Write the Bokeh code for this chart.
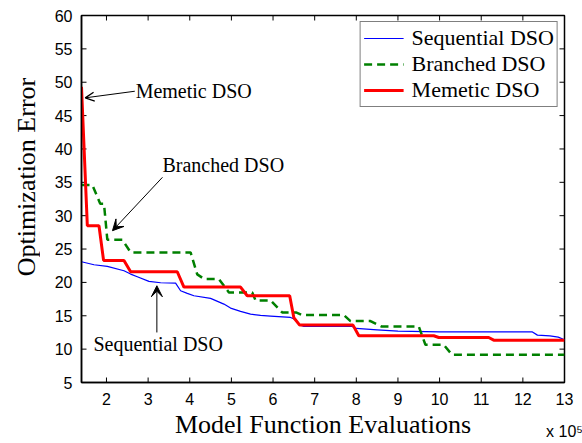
import math
from bokeh.plotting import figure
from bokeh.layouts import row
from bokeh.models import (Range1d, LinearAxis, FixedTicker, Label, Arrow,
                          OpenHead, VeeHead, Legend, LegendItem)
from bokeh.core.properties import value
from bokeh.embed import file_html
from bokeh.resources import INLINE

# ---- data (x in units of 1e5 model function evaluations) ----
seq_x = [1.40, 1.70, 2.02, 2.42, 2.58, 2.74, 3.02, 3.30, 3.66, 3.78, 3.94, 4.10,
         4.50, 4.82, 4.98, 5.22, 5.46, 5.70, 5.94, 6.42, 6.52, 6.66, 6.74, 7.90,
         8.00, 8.50, 9.00, 10.00, 12.22, 12.35, 12.65, 12.85, 13.00]
seq_y = [23.1, 22.65, 22.4, 21.75, 21.25, 20.85, 20.15, 19.95, 19.9, 18.75, 18.35, 18.0,
         17.6, 16.75, 16.15, 15.65, 15.25, 15.05, 14.95, 14.75, 14.5, 13.6, 13.4, 13.4,
         13.1, 12.9, 12.7, 12.6, 12.6, 12.1, 12.0, 11.8, 11.4]

br_x = [1.40, 1.66, 1.85, 1.94, 2.02, 2.38, 2.58, 4.02, 4.18, 4.35, 4.70, 4.94,
        5.50, 5.58, 5.94, 6.22, 6.55, 6.70, 7.70, 7.86, 8.34, 8.60, 9.50, 9.66,
        10.10, 10.30, 13.00]
br_y = [34.6, 34.6, 31.8, 31.8, 26.4, 26.4, 24.5, 24.5, 21.2, 20.5, 20.5, 18.5,
        18.5, 17.3, 17.3, 15.5, 15.5, 15.1, 15.1, 14.2, 14.2, 13.4, 13.4, 10.65,
        10.65, 9.15, 9.15]

mem_x = [1.40, 1.54, 1.82, 1.93, 2.42, 2.58, 3.70, 3.86, 5.22, 5.38, 6.40, 6.50,
         6.64, 7.92, 8.06, 9.86, 9.98, 11.18, 11.30, 13.00]
mem_y = [49.3, 28.5, 28.5, 23.3, 23.3, 21.6, 21.6, 19.3, 19.3, 18.0, 18.0, 14.7,
         13.6, 13.6, 12.0, 12.0, 11.75, 11.75, 11.35, 11.35]

series_names = ["Sequential DSO", "Branched DSO", "Memetic DSO"]
x_ticks = [2, 3, 4, 5, 6, 7, 8, 9, 10, 11, 12, 13]
y_ticks = [5, 10, 15, 20, 25, 30, 35, 40, 45, 50, 55, 60]
x_min, x_max = 1.4, 13
y_min, y_max = 5, 60
x_title = "Model Function Evaluations"
x_scale = "x 10\u2075"
y_title = "Optimization Error"

serif = "Liberation Serif"
sans = "Liberation Sans"

# ---- main plot ----
p = figure(width=542, height=443, output_backend="svg", toolbar_location=None,
           x_range=Range1d(x_min, x_max), y_range=Range1d(y_min, y_max),
           x_axis_location=None, y_axis_location=None,
           min_border_left=41, min_border_right=18, min_border_top=15,
           min_border_bottom=61)
p.grid.visible = False
p.outline_line_color = "black"
p.outline_line_width = 1.5
p.background_fill_color = "white"
p.border_fill_color = "white"

xb = LinearAxis(ticker=FixedTicker(ticks=x_ticks))
yl = LinearAxis(ticker=FixedTicker(ticks=y_ticks))
p.add_layout(xb, "below")
p.add_layout(yl, "left")

for ax in (xb, yl):
    ax.major_tick_in = 0
    ax.major_tick_out = 0
    ax.major_tick_line_color = None
    ax.minor_tick_line_color = None
    ax.axis_line_color = "black"
    ax.axis_line_width = 1.5
    ax.major_label_text_font = sans
    ax.major_label_text_font_size = "16px"
    ax.major_label_text_color = "black"
xb.major_label_standoff = 10
yl.major_label_standoff = 9

xb.axis_label = x_title
xb.axis_label_text_font = serif
xb.axis_label_text_font_size = "26px"
xb.axis_label_text_font_style = "normal"
xb.axis_label_text_color = "black"
xb.axis_label_standoff = 2

# outer bottom axis carrying only the scale factor, pulled up beside the title
xs = LinearAxis(ticker=FixedTicker(ticks=[]))
xs.axis_line_color = None
xs.major_tick_line_color = None
xs.minor_tick_line_color = None
xs.major_label_standoff = 0
xs.axis_label = x_scale
xs.axis_label_text_font = sans
xs.axis_label_text_font_size = "16px"
xs.axis_label_text_font_style = "normal"
xs.axis_label_text_color = "black"
xs.axis_label_standoff = -19
xs.axis_label_align = "end"
p.add_layout(xs, "below")

# inward tick marks on all four sides (clipped to the frame)
nx, ny = len(x_ticks), len(y_ticks)
p.scatter(x_ticks, [y_min] * nx, marker="dash", angle=math.pi / 2, size=10,
          line_color="black", line_width=1)
p.scatter(x_ticks, [y_max] * nx, marker="dash", angle=math.pi / 2, size=10,
          line_color="black", line_width=1)
p.scatter([x_min] * ny, y_ticks, marker="dash", size=10,
          line_color="black", line_width=1)
p.scatter([x_max] * ny, y_ticks, marker="dash", size=10,
          line_color="black", line_width=1)

r_seq = p.line(seq_x, seq_y, line_color="#0000ff", line_width=1.2)
r_br = p.line(br_x, br_y, line_color="#008000", line_width=2.5, line_dash="8 5")
r_mem = p.line(mem_x, mem_y, line_color="#ff0000", line_width=3)

legend = Legend(items=[LegendItem(label=series_names[0], renderers=[r_seq]),
                       LegendItem(label=series_names[1], renderers=[r_br]),
                       LegendItem(label=series_names[2], renderers=[r_mem])],
                location="top_right", margin=6, padding=3, spacing=0,
                label_text_font=serif, label_text_font_size="22px",
                label_text_color="black", glyph_width=40, glyph_height=20,
                label_height=24, label_standoff=8,
                border_line_color="black", border_line_width=1.5,
                background_fill_alpha=1.0)
p.add_layout(legend)

# annotations with arrows
p.add_layout(Label(x=2.70, y=47.05, text=series_names[2], text_font=serif,
                   text_font_size="20px", text_color="black"))
p.add_layout(Label(x=3.344, y=35.95, text=series_names[1], text_font=serif,
                   text_font_size="20px", text_color="black"))
p.add_layout(Label(x=1.688, y=9.05, text=series_names[0], text_font=serif,
                   text_font_size="20px", text_color="black"))

p.add_layout(Arrow(x_start=2.68, y_start=48.65, x_end=1.49, y_end=47.66,
                   line_color="black", line_width=1,
                   end=OpenHead(size=9, line_width=1.3, line_color="black")))
p.add_layout(Arrow(x_start=3.344, y_start=35.75, x_end=2.144, y_end=27.75,
                   line_color="black", line_width=1,
                   end=VeeHead(size=11, line_color="black", fill_color="black")))
p.add_layout(Arrow(x_start=3.21, y_start=12.5, x_end=3.21, y_end=19.5,
                   line_color="black", line_width=1,
                   end=VeeHead(size=11, line_color="black", fill_color="black")))

# ---- y-axis title strip (left) ----
pl = figure(width=40, height=443, output_backend="svg", toolbar_location=None,
            x_range=Range1d(0, 40), y_range=Range1d(0, 443),
            x_axis_location=None, y_axis_location=None, min_border=0)
pl.grid.visible = False
pl.outline_line_color = None
pl.text(x=[26], y=[248], text=[y_title], angle=math.pi / 2,
        text_font=value(serif), text_font_size="26px", text_color="black",
        text_align="center", text_baseline="middle")

layout = row(pl, p)
open("out.html", "w").write(file_html(layout, INLINE))
